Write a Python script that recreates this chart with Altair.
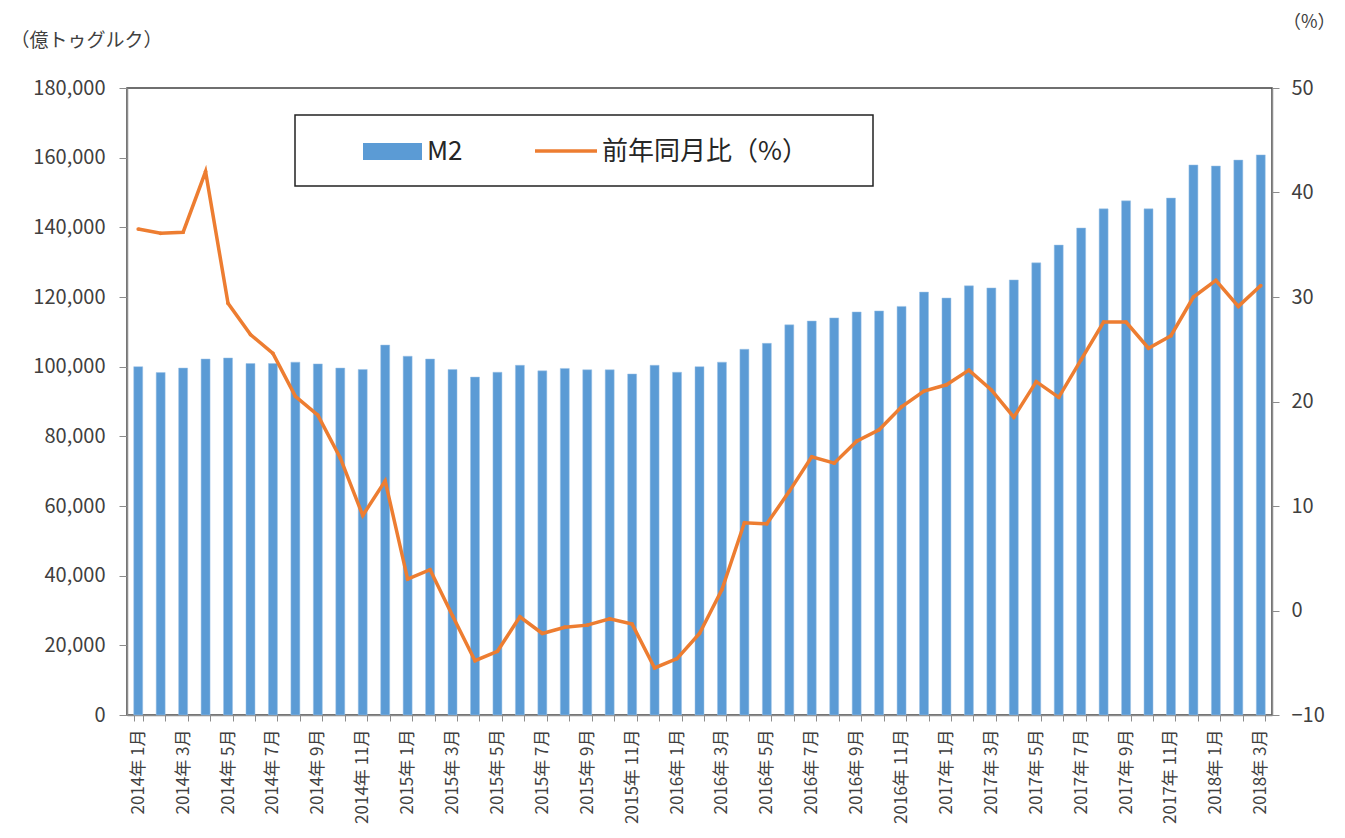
import altair as alt
import pandas as pd

# ---- data ----
years = [2014] * 12 + [2015] * 12 + [2016] * 12 + [2017] * 12 + [2018] * 3
months = list(range(1, 13)) * 4 + [1, 2, 3]
labels = [f"{y}年 {m}月" for y, m in zip(years, months)]

m2 = [100000, 98300, 99600, 102200, 102500, 100900, 100900, 101300, 100800, 99600, 99200, 106200,
      103000, 102200, 99200, 97000, 98400, 100400, 98800, 99500, 99100, 99100, 97900, 100400,
      98400, 100000, 101300, 105000, 106700, 112000, 113100, 114000, 115700, 116000, 117300, 121400,
      119700, 123200, 122600, 124900, 129800, 134900, 139800, 145300, 147600, 145300, 148400, 157900,
      157600, 159300, 160800]

yoy = [36.5, 36.1, 36.2, 42.0, 29.4, 26.4, 24.6, 20.5, 18.7, 14.6, 9.1, 12.4,
       3.0, 3.9, -0.5, -4.8, -3.9, -0.6, -2.2, -1.6, -1.4, -0.8, -1.3, -5.5,
       -4.6, -2.2, 2.0, 8.4, 8.3, 11.4, 14.7, 14.1, 16.2, 17.3, 19.5, 21.0,
       21.6, 23.0, 21.1, 18.5, 21.9, 20.4, 24.0, 27.6, 27.6, 25.1, 26.3, 30.0,
       31.6, 29.1, 31.1]

left_ticks = list(range(0, 180001, 20000))
right_ticks = list(range(-10, 51, 10))

series_names = ["M2", "前年同月比（%）"]
bar_color = "#5B9BD5"
line_color = "#ED7D31"

df = pd.DataFrame({"label": labels, "m2": m2, "yoy": yoy})

FONT = "Noto Sans CJK JP"
TXT = "#404040"
AX = "#8C8C8C"

W, H = 1145, 627

x_enc = alt.X(
    "label:N",
    sort=labels,
    scale=alt.Scale(paddingInner=0.6, paddingOuter=0.3),
    axis=alt.Axis(
        title=None,
        labelAngle=-90,
        labelFontSize=17,
        labelFont=FONT,
        labelColor=TXT,
        labelPadding=8,
        labelOverlap=False,
        labelExpr="test(regexp('年 (1|3|5|7|9|11)月$'), datum.value) ? datum.value : ''",
        tickBand="extent",
        tickSize=6,
        tickColor=AX,
        domainColor=AX,
        domainWidth=1.5,
        grid=False,
    ),
)

bars = alt.Chart(df).mark_bar(color=bar_color, stroke="#9DC3E6", strokeWidth=0.5).encode(
    x=x_enc,
    y=alt.Y(
        "m2:Q",
        scale=alt.Scale(domain=[0, 180000], nice=False),
        axis=alt.Axis(
            values=left_ticks,
            format=",d",
            title="（億トゥグルク）",
            titleAngle=0,
            titleAlign="left",
            titleBaseline="middle",
            titleX=-117,
            titleY=-48,
            titleFont=FONT,
            titleFontSize=19,
            titleFontWeight="normal",
            titleColor=TXT,
            labelFont=FONT,
            labelFontSize=20,
            labelColor=TXT,
            labelPadding=14,
            tickSize=8,
            tickColor=AX,
            domainColor=AX,
            domainWidth=1.5,
            grid=False,
        ),
    ),
)

line = alt.Chart(df).mark_line(
    color=line_color,
    strokeWidth=3.5,
    point=alt.OverlayMarkDef(color=line_color, size=14, filled=True),
).encode(
    x=alt.X("label:N", sort=labels),
    y=alt.Y(
        "yoy:Q",
        scale=alt.Scale(domain=[-10, 50], nice=False),
        axis=alt.Axis(
            orient="right",
            values=right_ticks,
            title="（%）",
            titleAngle=0,
            titleAlign="right",
            titleBaseline="middle",
            titleX=63,
            titleY=-66,
            titleFont=FONT,
            titleFontSize=18,
            titleFontWeight="normal",
            titleColor=TXT,
            labelFont=FONT,
            labelFontSize=20,
            labelColor=TXT,
            labelPadding=12,
            tickSize=7,
            tickColor=AX,
            domainColor=AX,
            domainWidth=1.5,
            grid=False,
        ),
    ),
)

# ---- legend (decoration) ----
one = alt.Data(values=[{"k": 0}])
leg_box = alt.Chart(one).mark_rect(fill="white", stroke="#222222", strokeWidth=1.5).encode(
    x=alt.value(168), x2=alt.value(746), y=alt.value(27), y2=alt.value(98)
)
leg_bar = alt.Chart(one).mark_rect(color=bar_color).encode(
    x=alt.value(236), x2=alt.value(295), y=alt.value(55), y2=alt.value(72)
)
leg_line = alt.Chart(one).mark_rule(color=line_color, strokeWidth=3.5).encode(
    x=alt.value(408), x2=alt.value(470), y=alt.value(63)
)
leg_t1 = alt.Chart(one).mark_text(
    align="left", baseline="middle", font=FONT, fontSize=26, color="#262626"
).encode(x=alt.value(300), y=alt.value(64), text=alt.value(series_names[0]))
leg_t2 = alt.Chart(one).mark_text(
    align="left", baseline="middle", font=FONT, fontSize=26, color="#262626"
).encode(x=alt.value(475), y=alt.value(64), text=alt.value(series_names[1]))

chart = (
    alt.layer(bars, line, leg_box, leg_bar, leg_line, leg_t1, leg_t2)
    .resolve_scale(y="independent")
    .properties(
        width=W,
        height=H,
        autosize=alt.AutoSizeParams(type="none"),
        padding={"left": 119, "top": 80, "right": 65, "bottom": 115},
        background="white",
    )
    .configure_view(stroke="#404040", strokeWidth=1.5)
)

chart.save("out.html", embed_options={"renderer": "svg", "actions": False})
